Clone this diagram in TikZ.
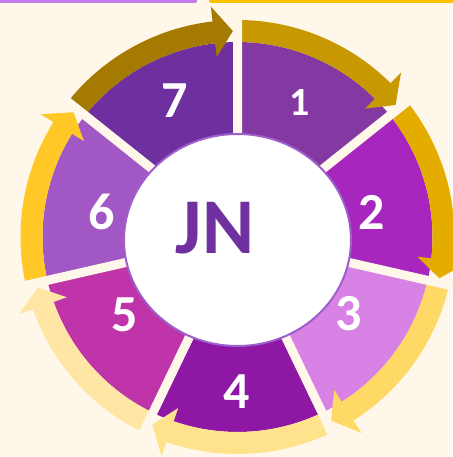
\documentclass[tikz,border=0pt]{standalone}
\usepackage{fontspec}
\setmainfont{Carlito}
\usetikzlibrary{calc}
\definecolor{Paper}{HTML}{FFF8EA}
\definecolor{Lilac}{HTML}{C77BEA}
\definecolor{GoldBar}{HTML}{FFC000}
\definecolor{SegA}{HTML}{8338A2}
\definecolor{SegB}{HTML}{A726BE}
\definecolor{SegC}{HTML}{D782E4}
\definecolor{SegD}{HTML}{8E17A3}
\definecolor{SegE}{HTML}{BF34A9}
\definecolor{SegF}{HTML}{A158C4}
\definecolor{SegG}{HTML}{6D309E}
\definecolor{ArrA}{HTML}{C89800}
\definecolor{ArrB}{HTML}{E5AC00}
\definecolor{ArrC}{HTML}{FFD966}
\definecolor{ArrD}{HTML}{FFE38C}
\definecolor{ArrE}{HTML}{FFE6A4}
\definecolor{ArrF}{HTML}{FFC826}
\definecolor{ArrG}{HTML}{A57A00}
\definecolor{Rim}{HTML}{9D5FCC}
\definecolor{HubInk}{HTML}{7030A0}
% one slice of the wheel: from angle, to angle, colour
\newcommand{\wedgeseg}[3]{%
  \fill[#3] (0,0) -- (#1:195) arc[start angle=#1, end angle=#2, radius=195] -- cycle;}
% curved arrow outside a slice: tail angle, gap angle at the head, colour
\newcommand{\turnarrow}[3]{%
  \pgfmathsetmacro{\headang}{#2+6.6}\pgfmathsetmacro{\tipang}{#2+1.3}%
  \fill[#3] (#1:217) arc[start angle=#1, end angle=\headang, radius=217]
    -- (\headang:232) -- (\tipang:206) -- (\headang:181) -- (\headang:195)
    arc[start angle=\headang, end angle=#1, radius=195] -- cycle;}

\begin{document}
\begin{tikzpicture}[
  x=1pt, y=1pt,
  gap/.style={draw=Paper, line width=9pt},
  num/.style={text=white, font=\fontsize{52}{52}\selectfont\bfseries, inner sep=0pt},
  hubtext/.style={text=HubInk, font=\fontsize{79}{79}\selectfont\bfseries, inner sep=0pt}
]
\useasboundingbox (-237.5,-220) rectangle (214.5,237);
\fill[Paper] (-237.5,-220) rectangle (214.5,237);

% bars at the top edge
\fill[Lilac, rounded corners=2pt] (-242,234) rectangle (-40.5,244);
\fill[GoldBar, rounded corners=2pt] (-28.5,234) rectangle (220,244);

% slices
\wedgeseg{90}{38.571}{SegA}
\wedgeseg{38.571}{-12.857}{SegB}
\wedgeseg{-12.857}{-64.286}{SegC}
\wedgeseg{-64.286}{-115.714}{SegD}
\wedgeseg{-115.714}{-167.143}{SegE}
\wedgeseg{-167.143}{-218.571}{SegF}
\wedgeseg{141.429}{90}{SegG}

% arrows round the wheel
\turnarrow{90}{38.571}{ArrA}
\turnarrow{38.571}{-12.857}{ArrB}
\turnarrow{-12.857}{-64.286}{ArrC}
\turnarrow{-64.286}{-115.714}{ArrD}
\turnarrow{-115.714}{-167.143}{ArrE}
\turnarrow{-167.143}{-218.571}{ArrF}
\turnarrow{141.429}{90}{ArrG}

% gaps between slices
\draw[gap] (0,0) -- (90:226) (0,0) -- (38.571:226) (0,0) -- (-12.857:226)
  (0,0) -- (-64.286:226) (0,0) -- (-115.714:226) (0,0) -- (-167.143:226)
  (0,0) -- (141.429:226);

% hub
\filldraw[fill=white, draw=Rim, line width=2pt] (0,-3) ellipse [x radius=113.5, y radius=106];
\node[hubtext] (jn) at (-22.5,9) {JN};

% numbers
\node[num, font=\fontsize{40}{40}\selectfont\bfseries] (n1) at (62.5,134) {1};
\node[num] (n2) at (134.5,25) {2};
\node[num] (n3) at (111.5,-77) {3};
\node[num] (n4) at (-0.5,-155) {4};
\node[num] (n5) at (-112.5,-78) {5};
\node[num] (n6) at (-135.5,25) {6};
\node[num] (n7) at (-62.5,136) {7};
\end{tikzpicture}
\end{document}
